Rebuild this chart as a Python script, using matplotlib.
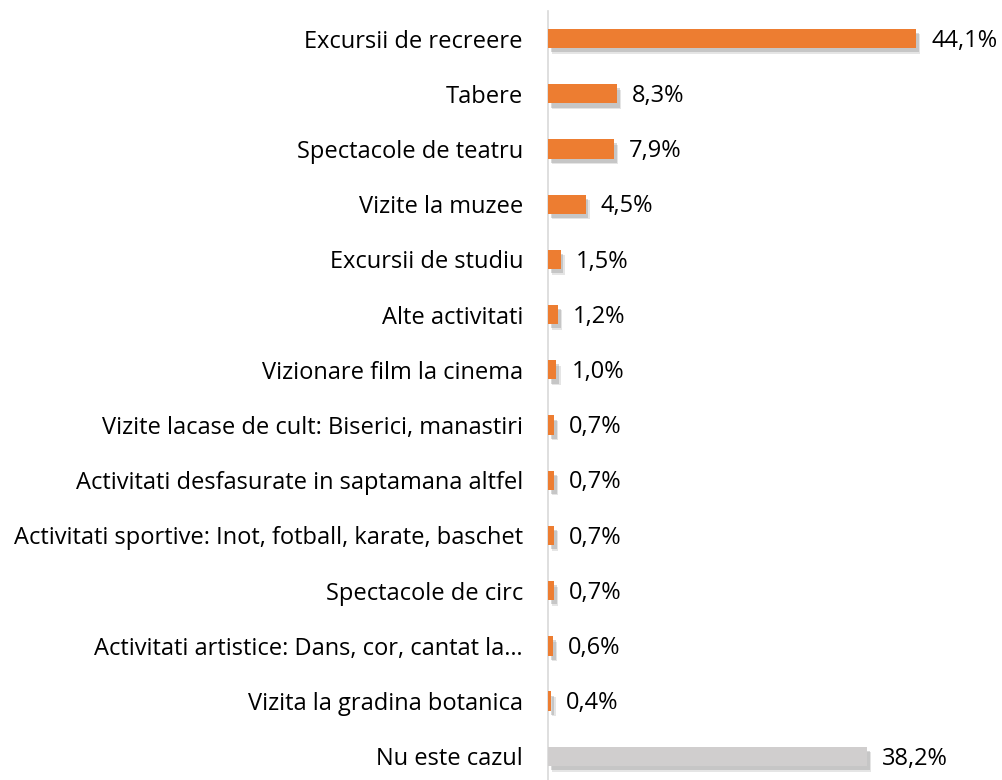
import matplotlib
matplotlib.use("Agg")
import matplotlib.pyplot as plt
import matplotlib.patheffects as pe

categories = [
    "Excursii de recreere",
    "Tabere",
    "Spectacole de teatru",
    "Vizite la muzee",
    "Excursii de studiu",
    "Alte activitati",
    "Vizionare film la cinema",
    "Vizite lacase de cult: Biserici, manastiri",
    "Activitati desfasurate in saptamana altfel",
    "Activitati sportive: Inot, fotball, karate, baschet",
    "Spectacole de circ",
    "Activitati artistice: Dans, cor, cantat la\u2026",
    "Vizita la gradina botanica",
    "Nu este cazul",
]
values = [44.1, 8.3, 7.9, 4.5, 1.5, 1.2, 1.0, 0.7, 0.7, 0.7, 0.7, 0.6, 0.4, 38.2]
value_labels = ["44,1%", "8,3%", "7,9%", "4,5%", "1,5%", "1,2%", "1,0%", "0,7%",
                "0,7%", "0,7%", "0,7%", "0,6%", "0,4%", "38,2%"]

plt.rcParams['font.family'] = ['Open Sans', 'DejaVu Sans']

fig = plt.figure(figsize=(10.02, 7.8), dpi=100)
ax = fig.add_axes([548/1002, -0.005, 1 - 548/1002, 0.991])

colors = ["#ED7D31"] * (len(values) - 1) + ["#D0CECE"]
ypos = list(range(len(values)))
bars = ax.barh(ypos, values, height=0.35, color=colors, zorder=3)
for b in bars:
    b.set_path_effects([
        pe.SimplePatchShadow(offset=(3, -4), shadow_rgbFace="#9a9a9a", alpha=0.25),
        pe.SimplePatchShadow(offset=(2, -3), shadow_rgbFace="#7f7f7f", alpha=0.3),
        pe.Normal()])

for y, v, t in zip(ypos, values, value_labels):
    ax.text(v + 1.8, y + 0.04, t, va="center", ha="left", fontsize=17, color="#000000")

ax.set_xlim(0, 54.4)
ax.set_ylim(13.5, -0.5)
ax.set_yticks(ypos)
ax.set_yticklabels(categories, fontsize=17)
ax.tick_params(axis='y', length=0, pad=18)
ax.set_xticks([])
for s in ["top", "right", "bottom"]:
    ax.spines[s].set_visible(False)
ax.spines["left"].set_color("#D9D9D9")
ax.spines["left"].set_linewidth(1.2)

fig.savefig("out.png", dpi=100)
